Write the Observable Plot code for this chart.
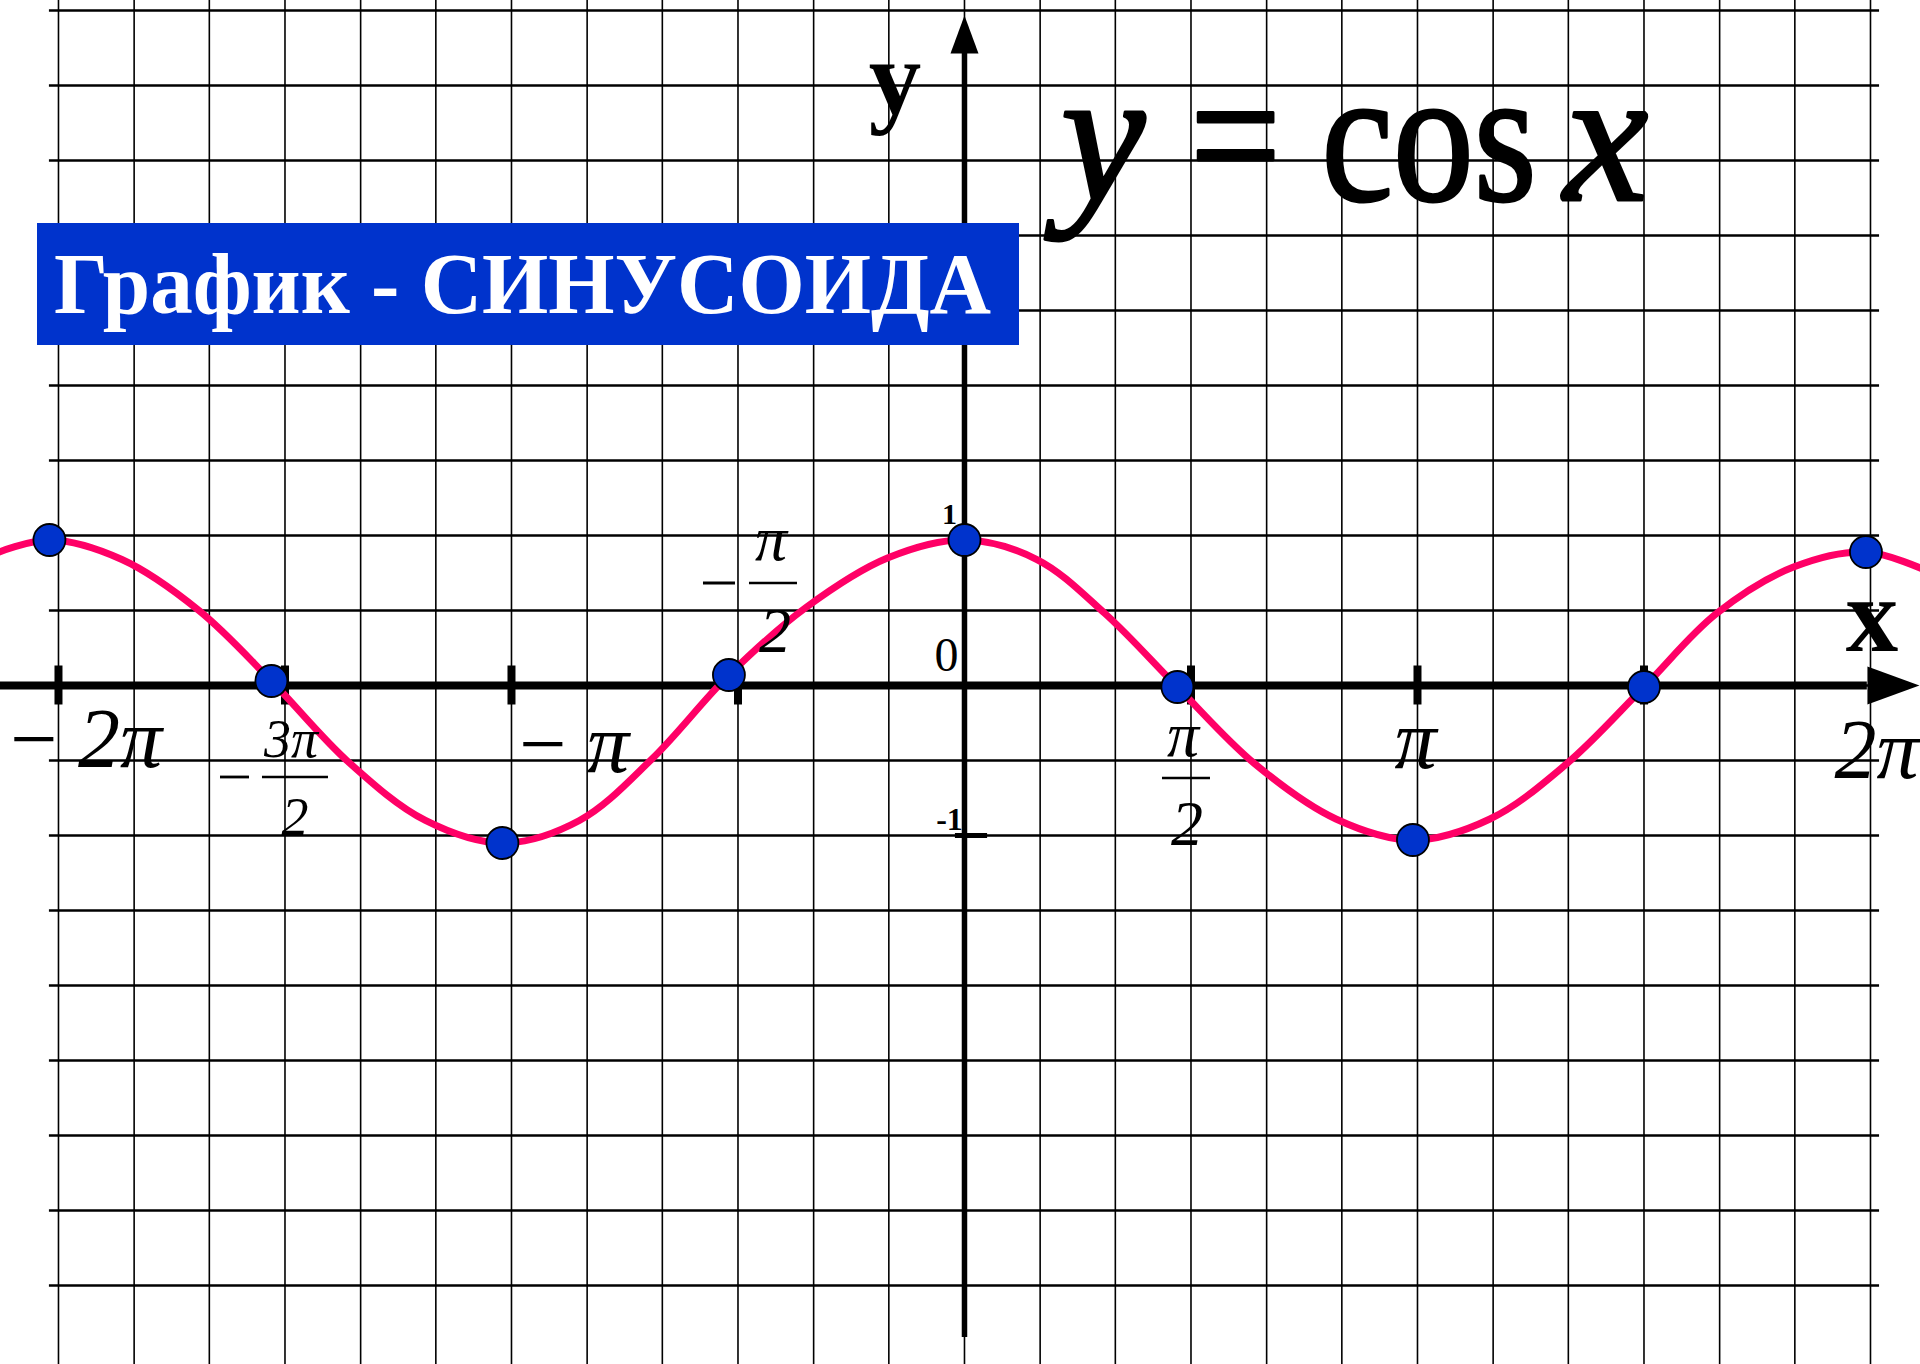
<!DOCTYPE html>
<html>
<head>
<meta charset="utf-8">
<script src="https://cdn.jsdelivr.net/npm/d3@7"></script>
<script src="https://cdn.jsdelivr.net/npm/@observablehq/plot@0.6"></script>
<style>
  html, body { margin: 0; padding: 0; background: #ffffff; }
  #chart svg { display: block; }
</style>
</head>
<body>
<div id="chart"></div>
<script>
// ---- data (x in units of π) ----
const gridX = [-2, -1.833, -1.667, -1.5, -1.333, -1.167, -1, -0.833, -0.667, -0.5, -0.333, -0.167, 0,
               0.167, 0.333, 0.5, 0.667, 0.833, 1, 1.167, 1.333, 1.5, 1.667, 1.833, 2];
const gridY = [4.5, 4, 3.5, 3, 2.5, 2, 1.5, 1, 0.5, 0, -0.5, -1, -1.5, -2, -2.5, -3, -3.5, -4];

const curveX = [-2.14, -2.02, -1.86, -1.69, -1.53, -1.36, -1.19, -1.02, -0.85, -0.69, -0.52, -0.35, -0.17, 0,
                0.16, 0.31, 0.47, 0.64, 0.82, 0.99, 1.16, 1.33, 1.5, 1.66, 1.83, 1.99, 2.12];
const curveY = [0.88, 0.97, 0.84, 0.5, 0.03, -0.51, -0.9, -1.05, -0.9, -0.49, 0.07, 0.52, 0.85, 0.97,
                0.84, 0.48, -0.01, -0.52, -0.89, -1.03, -0.89, -0.52, -0.01, 0.48, 0.79, 0.89, 0.77];

const dotX = [-2.02, -1.53, -1.02, -0.52, 0, 0.47, 0.99, 1.5, 1.99];
const dotY = [0.97, 0.03, -1.05, 0.07, 0.97, -0.01, -1.03, -0.01, 0.89];

const xTicks = [-2, -1.5, -1, -0.5, 0.5, 1, 1.5];
const yLabelValues = [1, 0, -1];
const yLabelTexts = ["1", "0", "-1"];

const bigTickValues = [-2, -1, 1, 2];
const bigTickTexts = ["\u2212\u20092π", "\u2212\u2009π", "π", "2π"];

const fracTicks = [-1.5, -0.5, 0.5];
const fracNum = ["3π", "π", "π"];
const fracDen = ["2", "2", "2"];
const fracSign = ["\u2212", "\u2212", ""];

const titleText = "График - СИНУСОИДА";
const formulaParts = ["y", "= cos", "x"];
const axisNames = ["y", "x"];

// ---- tables built from arrays ----
const curve = curveX.map((x, i) => ({x, y: curveY[i]}));
const dots = dotX.map((x, i) => ({x, y: dotY[i]}));
const bigLabels = bigTickValues.map((x, i) => ({x, text: bigTickTexts[i]}));

// ---- custom arrowhead symbols ----
const arrowUp = {draw(ctx) { ctx.moveTo(0, 0); ctx.lineTo(-14, 38); ctx.lineTo(14, 38); ctx.closePath(); }};
const arrowRight = {draw(ctx) { ctx.moveTo(0, 0); ctx.lineTo(-52, -19); ctx.lineTo(-52, 19); ctx.closePath(); }};

const serif = "'Liberation Serif', 'Times New Roman', serif";

const plot = Plot.plot({
  width: 1920,
  height: 1364,
  margin: 0,
  x: {domain: [-2.128, 2.1104], axis: null},
  y: {domain: [-4.527, 4.567], axis: null},
  style: {background: "#ffffff", fontFamily: serif},
  marks: [
    // grid
    Plot.ruleX(gridX, {stroke: "#000", strokeWidth: 1.6}),
    Plot.ruleY(gridY, {x1: -2.02, x2: 2.02, stroke: "#000", strokeWidth: 2.4}),
    // axes
    Plot.ruleY([0], {x1: -2.128, x2: 1.993, stroke: "#000", strokeWidth: 8}),
    Plot.ruleX([0], {y1: -4.347, y2: 4.22, stroke: "#000", strokeWidth: 5.5}),
    Plot.dot([{x: 2.108, y: 0}], {x: "x", y: "y", symbol: arrowRight, fill: "#000", stroke: "none"}),
    Plot.dot([{x: 0, y: 4.467}], {x: "x", y: "y", symbol: arrowUp, fill: "#000", stroke: "none"}),
    Plot.ruleX(xTicks, {y1: -0.13, y2: 0.13, stroke: "#000", strokeWidth: 8}),
    Plot.ruleY([-1], {x1: -0.02, x2: 0.051, stroke: "#000", strokeWidth: 5}),
    // curve and key points
    Plot.line(curve, {x: "x", y: "y", curve: "catmull-rom", stroke: "#ff0066", strokeWidth: 7, clip: true}),
    Plot.dot(dots, {x: "x", y: "y", r: 16, fill: "#0033cc", stroke: "#000", strokeWidth: 1.8}),
    // y-axis numbers
    Plot.text([0], {x: 0, y: yLabelValues[0], text: [yLabelTexts[0]], dx: -15, dy: -12, lineAnchor: "bottom",
      fontSize: 30, fontWeight: "bold", fill: "#000"}),
    Plot.text([0], {x: 0, y: yLabelValues[1], text: [yLabelTexts[1]], dx: -18, dy: -14, lineAnchor: "bottom",
      fontSize: 48, fill: "#000"}),
    Plot.text([0], {x: 0, y: yLabelValues[2], text: [yLabelTexts[2]], dx: -15, dy: -5, lineAnchor: "bottom",
      fontSize: 32, fontWeight: "bold", fill: "#000"}),
    // big π tick labels
    Plot.text([bigLabels[0]], {x: "x", y: 0, text: "text", textAnchor: "start", dx: -54, dy: 82, lineAnchor: "bottom",
      fontSize: 84, fontStyle: "italic", fill: "#000"}),
    Plot.text([bigLabels[1]], {x: "x", y: 0, text: "text", textAnchor: "start", dx: 2, dy: 87, lineAnchor: "bottom",
      fontSize: 84, fontStyle: "italic", fill: "#000"}),
    Plot.text([bigLabels[2]], {x: "x", y: 0, text: "text", dx: -2, dy: 83, lineAnchor: "bottom",
      fontSize: 84, fontStyle: "italic", fill: "#000"}),
    Plot.text([bigLabels[3]], {x: "x", y: 0, text: "text", dx: 6, dy: 93, lineAnchor: "bottom",
      fontSize: 84, fontStyle: "italic", fill: "#000"})
  ]
});
document.getElementById("chart").append(plot);

const sx = plot.scale("x").apply;
const sy = plot.scale("y").apply;
const svg = d3.select(plot);
const ann = svg.append("g").attr("font-family", serif).attr("fill", "#000").attr("text-anchor", "start");

// ---- fraction labels (pixel offsets from tick/axis position) ----
const fracLayout = [
  {numDx: 6.5, numDy: 72, barDx: 10.5, barHalf: 33, barDy: 92, denDx: 10.5, denDy: 150, signDx: -50, signHalf: 14.5, size: 54},
  {numDx: 33.5, numDy: -125, barDx: 35.5, barHalf: 24, barDy: -102, denDx: 37.5, denDy: -33, signDx: -18.5, signHalf: 16, size: 64},
  {numDx: -7.5, numDy: 71, barDx: -4.5, barHalf: 24, barDy: 93, denDx: -3.5, denDy: 160, signDx: 0, signHalf: 0, size: 64}
];
fracTicks.forEach((v, i) => {
  const L = fracLayout[i];
  const cx = sx(v), cy = sy(0);
  const g = ann.append("g").attr("class", "fraction");
  g.append("text").attr("x", cx + L.numDx).attr("y", cy + L.numDy).attr("text-anchor", "middle")
    .attr("font-size", L.size).attr("font-style", "italic").text(fracNum[i]);
  g.append("line").attr("x1", cx + L.barDx - L.barHalf).attr("x2", cx + L.barDx + L.barHalf)
    .attr("y1", cy + L.barDy).attr("y2", cy + L.barDy).attr("stroke", "#000").attr("stroke-width", 2.6);
  g.append("text").attr("x", cx + L.denDx).attr("y", cy + L.denDy).attr("text-anchor", "middle")
    .attr("font-size", L.size).attr("font-style", "italic").text(fracDen[i]);
  if (fracSign[i]) {
    g.append("line").attr("x1", cx + L.signDx - L.signHalf).attr("x2", cx + L.signDx + L.signHalf)
      .attr("y1", cy + L.barDy).attr("y2", cy + L.barDy).attr("stroke", "#000").attr("stroke-width", 2.8)
      .attr("aria-label", fracSign[i]);
  }
});

// ---- axis names ----
ann.append("text").attr("x", sx(0) - 69).attr("y", 113).attr("text-anchor", "middle")
  .attr("font-size", 105).attr("font-weight", "bold").text(axisNames[0]);
ann.append("text").attr("x", sx(2) + 2).attr("y", sy(0) - 34).attr("text-anchor", "middle")
  .attr("font-size", 105).attr("font-weight", "bold").text(axisNames[1]);

// ---- formula y = cos x (pieces placed at ink positions, condensed by a transform) ----
const formulaLayout = [
  {x: 1103, anchor: "middle", italic: true, sxScale: 1},
  {x: 1190, anchor: "start", italic: false, sxScale: 0.85},
  {x: 1606, anchor: "middle", italic: true, sxScale: 1}
];
formulaParts.forEach((t, i) => {
  const L = formulaLayout[i];
  ann.append("text").attr("transform", `translate(${L.x},200) scale(${L.sxScale},1)`)
    .attr("text-anchor", L.anchor)
    .attr("font-size", 190).attr("font-style", L.italic ? "italic" : "normal")
    .attr("stroke", "#000").attr("stroke-width", 3).attr("stroke-linejoin", "round").text(t);
});

// ---- banner ----
ann.append("rect").attr("x", 37).attr("y", 223).attr("width", 982).attr("height", 122).attr("fill", "#0033cc");
ann.append("text").attr("x", 54).attr("y", 313).attr("font-size", 86).attr("font-weight", "bold").attr("text-anchor", "start")
  .attr("fill", "#ffffff").attr("textLength", 937).attr("lengthAdjust", "spacingAndGlyphs").text(titleText);
</script>
</body>
</html>
